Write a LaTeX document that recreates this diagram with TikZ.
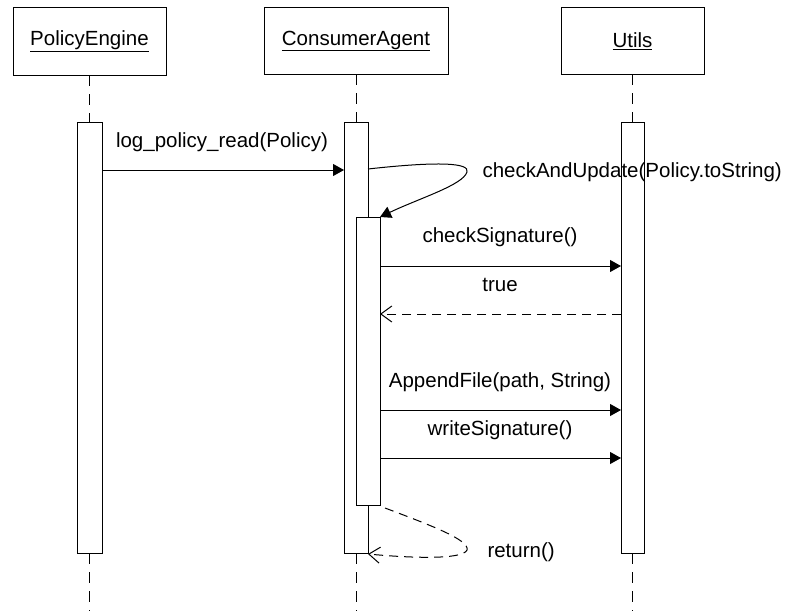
\documentclass[tikz,border=0pt]{standalone}
\usepackage{fontspec}
\setmainfont{Liberation Sans}
\usetikzlibrary{arrows.meta}
\begin{document}
\begin{tikzpicture}[x=1pt,y=-1pt,line width=1pt,
  font=\fontsize{20.5}{24}\selectfont,
  objbox/.style={draw,fill=white},
  actbox/.style={draw,fill=white},
  life/.style={dash pattern=on 11pt off 8pt},
  lbl/.style={inner sep=0pt,anchor=center},
  call/.style={-{Triangle[length=11pt,width=12pt]}},
  reply/.style={dashed,dash pattern=on 9pt off 6pt,-{Straight Barb[length=11pt,width=16pt]}}]
\useasboundingbox (0,0) rectangle (795,611);
% object boxes
\draw[objbox] (13,7) rectangle (166,75);
\node[lbl] (pe) at (89.5,41) {\underline{PolicyEngine}};
\draw[objbox] (264,7) rectangle (448,74);
\node[lbl] (ca) at (356,41) {\underline{ConsumerAgent}};
\draw[objbox] (561,7) rectangle (704,74);
\node[lbl] (ut) at (632.5,41) {\underline{Utils}};
% lifelines
\coordinate (peA) at (89.5,75); \coordinate (peB) at (89.5,122);
\coordinate (peC) at (89.5,553); \coordinate (peD) at (89.5,611);
\coordinate (caA) at (356,74); \coordinate (caB) at (356,122);
\coordinate (caC) at (356,553); \coordinate (caD) at (356,611);
\coordinate (utA) at (632.5,74); \coordinate (utB) at (632.5,122);
\coordinate (utC) at (632.5,553); \coordinate (utD) at (632.5,611);
\draw[life] (peA) -- (peB); \draw[life] (peC) -- (peD);
\draw[life] (caA) -- (caB); \draw[life] (caC) -- (caD);
\draw[life] (utA) -- (utB); \draw[life] (utC) -- (utD);
% activations
\draw[actbox] (77,122) rectangle (102,553);
\draw[actbox] (344,122) rectangle (368,553);
\draw[actbox] (356,217) rectangle (380,505);
\draw[actbox] (621,122) rectangle (644,553);
% message end points
\coordinate (m1s) at (102,170); \coordinate (m1e) at (344,170);
\coordinate (m2s) at (368,169); \coordinate (m2e) at (380,217);
\coordinate (m3s) at (380,266); \coordinate (m3e) at (621,266);
\coordinate (m4s) at (621,314); \coordinate (m4e) at (380,314);
\coordinate (m5s) at (380,410); \coordinate (m5e) at (621,410);
\coordinate (m6s) at (380,458); \coordinate (m6e) at (621,458);
\coordinate (m7s) at (385,508); \coordinate (m7e) at (368,554);
% messages
\draw[call] (m1s) -- (m1e);
\node[lbl] (l1) at (222,142) {log\_policy\_read(Policy)};
\draw[call] (m2s) .. controls (440,161) and (470,163) .. (467,172)
  .. controls (463,185) and (420,198) .. (m2e);
\node[lbl,anchor=west] (l2) at (482,172) {checkAndUpdate(Policy.toString)};
\draw[call] (m3s) -- (m3e);
\node[lbl] (l3) at (500,237) {checkSignature()};
\draw[reply] (m4s) -- (m4e);
\node[lbl] (l4) at (500,285) {true};
\draw[call] (m5s) -- (m5e);
\node[lbl] (l5) at (500,382) {AppendFile(path, String)};
\draw[call] (m6s) -- (m6e);
\node[lbl] (l6) at (500,430) {writeSignature()};
\draw[reply] (m7s) .. controls (430,525) and (470,540) .. (467,550)
  .. controls (463,560) and (410,558) .. (m7e);
\node[lbl,anchor=west] (l7) at (487,552) {return()};
\end{tikzpicture}
\end{document}
